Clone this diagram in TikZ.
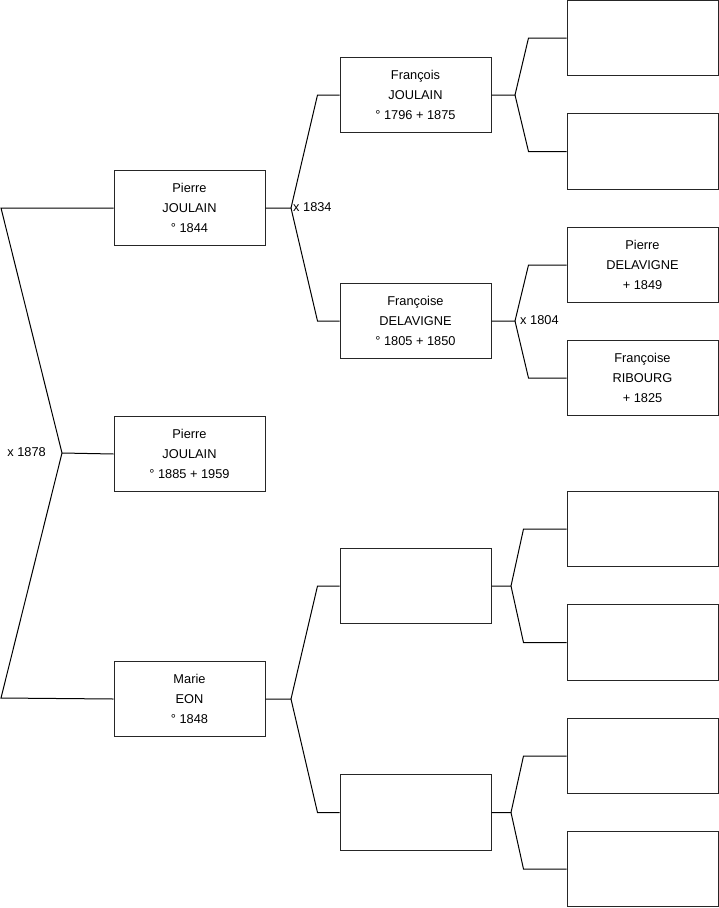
\documentclass[tikz,border=0pt]{standalone}
\usepackage{fontspec}
\setmainfont{Liberation Sans}
\begin{document}
\begin{tikzpicture}[x=1pt,y=-1pt,
  pbox/.style={draw=black!85, line width=1pt, minimum width=151pt, minimum height=75.5pt,
    align=center, inner sep=0pt, font=\fontsize{12.8}{20}\selectfont},
  conn/.style={draw=black, line width=1pt},
  mlabel/.style={font=\fontsize{12.8}{14}\selectfont, inner sep=0pt}]
\useasboundingbox[fill=white] (0,0) rectangle (719,908);
% generation 1
\node[pbox] (p1) at (189.5,208) {Pierre\\JOULAIN\\° 1844};
\node[pbox] (p2) at (189.5,454) {Pierre\\JOULAIN\\° 1885 + 1959};
\node[pbox] (p3) at (189.5,699) {Marie\\EON\\° 1848};
% generation 2
\node[pbox] (f1) at (415.5,95) {François\\JOULAIN\\° 1796 + 1875};
\node[pbox] (f2) at (415.5,321) {Françoise\\DELAVIGNE\\° 1805 + 1850};
\node[pbox] (f3) at (415.5,586) {};
\node[pbox] (f4) at (415.5,812.5) {};
% generation 3
\node[pbox] (g1) at (642.5,38) {};
\node[pbox] (g2) at (642.5,151.5) {};
\node[pbox] (g3) at (642.5,265) {Pierre\\DELAVIGNE\\+ 1849};
\node[pbox] (g4) at (642.5,378) {Françoise\\RIBOURG\\+ 1825};
\node[pbox] (g5) at (642.5,529) {};
\node[pbox] (g6) at (642.5,642.5) {};
\node[pbox] (g7) at (642.5,756) {};
\node[pbox] (g8) at (642.5,869) {};
% junction points
\coordinate (L1) at (1,208);
\coordinate (L2) at (1,698);
\coordinate (J0) at (62,453);
\coordinate (J1) at (291,208);
\coordinate (J2) at (291,699);
\coordinate (K1) at (515,95);
\coordinate (K2) at (515,321);
\coordinate (K3) at (511,586);
\coordinate (K4) at (511,812.5);
% connectors
\draw[conn] (p1.west) -- (L1) -- (J0) -- (L2) -- (p3.west);
\draw[conn] (J0) -- (p2.west);
\node[mlabel, anchor=east] (m0) at (46,452) {x 1878};
\draw[conn] (p1.east) -- (J1) -- ([xshift=-22pt]f1.west) -- (f1.west);
\draw[conn] (J1) -- ([xshift=-22pt]f2.west) -- (f2.west);
\node[mlabel, anchor=west] (m1) at (293,207) {x 1834};
\draw[conn] (p3.east) -- (J2) -- ([xshift=-22pt]f3.west) -- (f3.west);
\draw[conn] (J2) -- ([xshift=-22pt]f4.west) -- (f4.west);
\draw[conn] (f1.east) -- (K1) -- ([xshift=-38pt]g1.west) -- (g1.west);
\draw[conn] (K1) -- ([xshift=-38pt]g2.west) -- (g2.west);
\draw[conn] (f2.east) -- (K2) -- ([xshift=-38pt]g3.west) -- (g3.west);
\draw[conn] (K2) -- ([xshift=-38pt]g4.west) -- (g4.west);
\node[mlabel, anchor=west] (m2) at (520,320) {x 1804};
\draw[conn] (f3.east) -- (K3) -- ([xshift=-43pt]g5.west) -- (g5.west);
\draw[conn] (K3) -- ([xshift=-43pt]g6.west) -- (g6.west);
\draw[conn] (f4.east) -- (K4) -- ([xshift=-43pt]g7.west) -- (g7.west);
\draw[conn] (K4) -- ([xshift=-43pt]g8.west) -- (g8.west);
\end{tikzpicture}
\end{document}
